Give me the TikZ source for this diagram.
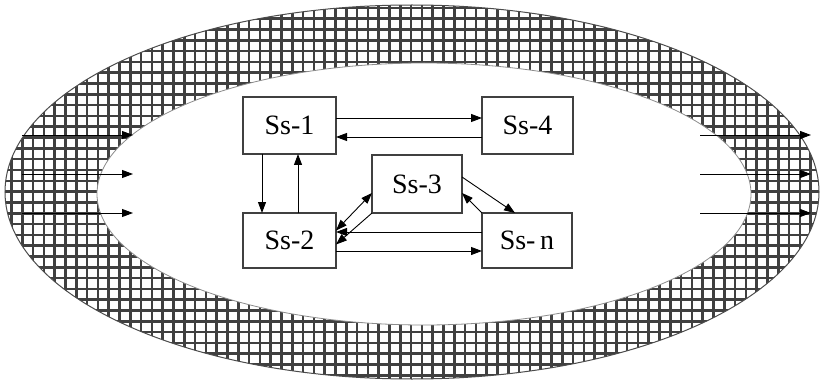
\documentclass[tikz,border=0pt]{standalone}
\usepackage{fontspec}
\setmainfont{Liberation Serif}
\usetikzlibrary{arrows.meta}
\begin{document}
\begin{tikzpicture}[x=1pt,y=-1pt,
  box/.style={draw=black!75, line width=1.3pt, minimum width=93pt, minimum height=57pt,
    inner sep=0pt, outer sep=0pt, anchor=north west, font=\fontsize{28}{28}\selectfont},
  arr/.style={draw=black, line width=0.9pt, -{Triangle[length=11pt,width=8pt]}},
  darr/.style={draw=black, line width=0.9pt, {Triangle[length=11pt,width=8pt]}-{Triangle[length=11pt,width=8pt]}},
  hatch/.style={draw=black!75, line width=2.6pt}
]
\useasboundingbox (0,0) rectangle (822,385);
% hatched ring
\begin{scope}
  \clip (412,192) ellipse [x radius=407pt, y radius=187pt];
  \foreach \i in {0,...,77} \draw[hatch] (0.6+\i*10.8,0) -- (0.6+\i*10.8,385);
  \foreach \j in {0,...,37} \draw[hatch] (0,-2.8+\j*10.8) -- (822,-2.8+\j*10.8);
\end{scope}
\fill[white] (424,194) ellipse [x radius=327pt, y radius=131pt];
\draw[black!70, line width=1pt] (412,192) ellipse [x radius=407pt, y radius=187pt];
\draw[black!45, line width=0.8pt] (424,194) ellipse [x radius=327pt, y radius=131pt];

% boxes
\node[box] (s1) at (243,97) {Ss-1};
\node[box, minimum width=91pt] (s4) at (482,97) {Ss-4};
\node[box, minimum width=90pt, minimum height=58pt] (s3) at (372,155) {Ss-3};
\node[box, minimum height=55pt] (s2) at (243,213) {Ss-2};
\node[box, minimum width=90pt, minimum height=55pt] (sn) at (482,213) {Ss-\,n};

% connectors
\draw[arr] ([yshift=7.5pt]s1.east) -- ([yshift=7.5pt]s4.west);
\draw[arr] ([yshift=-11.5pt]s4.west) -- ([yshift=-11.5pt]s1.east);
\draw[arr] ([xshift=-27.5pt]s1.south) -- ([xshift=-27.5pt]s2.north);
\draw[arr] ([xshift=8.5pt]s2.north) -- ([xshift=8.5pt]s1.south);
\draw[darr] ([yshift=10pt]s2.east) -- ([yshift=-9pt]s3.west);
\draw[arr] (s3.south west) -- ([yshift=-4pt]s2.east);
\draw[arr] ([yshift=8.5pt]sn.west) -- ([yshift=8.5pt]s2.east);
\draw[arr] ([yshift=-10.5pt]s2.east) -- ([yshift=-10.5pt]sn.west);
\draw[arr] ([yshift=7pt]s3.east) -- ([xshift=-12pt]sn.north);
\draw[arr] (sn.north west) -- ([yshift=-9pt]s3.east);

% flows in and out
\coordinate (la1) at (22,135); \coordinate (lb1) at (133,135);
\coordinate (la2) at (22,174); \coordinate (lb2) at (133,174);
\coordinate (la3) at (22,213); \coordinate (lb3) at (133,213);
\coordinate (ra1) at (700,135); \coordinate (rb1) at (811,135);
\coordinate (ra2) at (700,174); \coordinate (rb2) at (811,174);
\coordinate (ra3) at (700,213); \coordinate (rb3) at (811,213);
\draw[arr] (la1) -- (lb1);
\draw[arr] (la2) -- (lb2);
\draw[arr] (la3) -- (lb3);
\draw[arr] (ra1) -- (rb1);
\draw[arr] (ra2) -- (rb2);
\draw[arr] (ra3) -- (rb3);
\end{tikzpicture}
\end{document}
